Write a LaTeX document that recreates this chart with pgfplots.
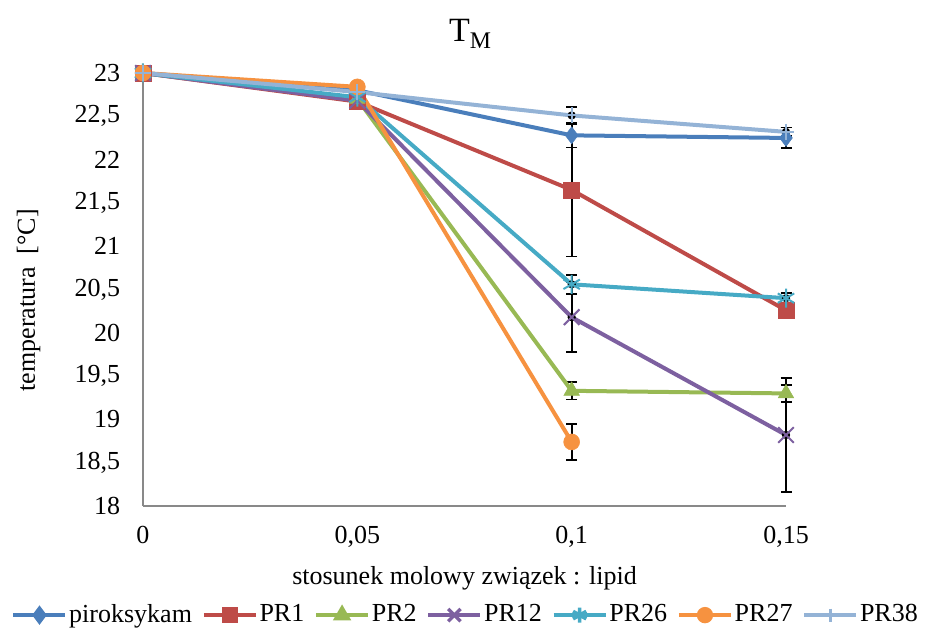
\documentclass[border=0pt]{standalone}
\usepackage{fontspec}
\setmainfont{Liberation Serif}
\usepackage{pgfplots}
\pgfplotsset{compat=1.18}
\usetikzlibrary{plotmarks}
\definecolor{cpir}{HTML}{4A7EBB}
\definecolor{cpr1}{HTML}{BE4B48}
\definecolor{cpr2}{HTML}{98B954}
\definecolor{cpr12}{HTML}{7D60A0}
\definecolor{cpr26}{HTML}{46AAC5}
\definecolor{cpr27}{HTML}{F69240}
\definecolor{cpr38}{HTML}{94B3D6}
\definecolor{axisgray}{HTML}{898989}
\begin{document}
\fontsize{26}{30}\selectfont
\begin{tikzpicture}
\path[use as bounding box] (-143pt,-129pt) rectangle (793pt,506pt);
\begin{axis}[
  at={(0pt,0pt)}, anchor=south west,
  scale only axis, width=643pt, height=433pt,
  xmin=0, xmax=0.15, ymin=18, ymax=23,
  axis x line*=bottom, axis y line*=left,
  axis line style={draw=axisgray, line width=1.2pt},
  xtick={0,0.05,0.1,0.15},
  xticklabels={0,{0,05},{0,1},{0,15}},
  ytick={18,18.5,19,19.5,20,20.5,21,21.5,22,22.5,23},
  yticklabels={18,{18,5},19,{19,5},20,{20,5},21,{21,5},22,{22,5},23},
  major tick length=0pt,
  tick label style={font=\fontsize{26}{30}\selectfont},
  yticklabel style={xshift=-14pt},
  xticklabel style={yshift=-11pt},
  clip=false,
  title={T\textsubscript{M}},
  title style={at={(axis description cs:0.509,1.076)}, anchor=center, font=\fontsize{34}{40}\selectfont},
  xlabel={stosunek molowy związek : lipid},
  xlabel style={at={(axis description cs:0.50,-0.166)}, anchor=center, font=\fontsize{26}{30}\selectfont},
  ylabel={temperatura\ \ [°C]},
  ylabel style={at={(axis description cs:-0.178,0.475)}, anchor=center, rotate=0, font=\fontsize{26}{30}\selectfont},
  every axis plot/.append style={line width=4pt},
  legend columns=-1,
  legend style={at={(axis description cs:0.502,-0.252)}, anchor=center, draw=none, fill=none,
    font=\fontsize{26}{30}\selectfont,
    /tikz/every even column/.append style={column sep=8pt},
    nodes={inner xsep=2pt, inner ysep=2pt}},
  legend image code/.code={\draw[line width=3.5pt, mark repeat=2,mark phase=2, mark options={scale=0.8}] plot coordinates {(0pt,0pt) (26pt,0pt) (52pt,0pt)};},
]
% error bars
\pgfplotsset{errbar/.style={only marks, mark=none, forget plot,
  error bars/.cd, y dir=both, y explicit,
  error bar style={draw=black, solid, line width=1.8pt},
  error mark options={draw=black, solid, rotate=90, mark size=5.5pt, line width=1.8pt}}}
\addplot[errbar] coordinates {(0.1,22.28) +- (0,0.14) (0.15,22.25) +- (0,0.12)};
\addplot[errbar] coordinates {(0.1,21.65) +- (0,0.77) (0.15,20.26) +- (0,0.05)};
\addplot[errbar] coordinates {(0.1,19.33) +- (0,0.1) (0.15,19.30) +- (0,0.1)};
\addplot[errbar] coordinates {(0.1,20.18) +- (0,0.4) (0.15,18.82) +- (0,0.66)};
\addplot[errbar] coordinates {(0.1,20.56) +- (0,0.11) (0.15,20.40) +- (0,0.06)};
\addplot[errbar] coordinates {(0.1,18.74) +- (0,0.21)};
\addplot[errbar] coordinates {(0.1,22.51) +- (0,0.1) (0.15,22.32) +- (0,0.05)};
% series
\addplot[color=cpir, mark=diamond*, mark size=8.5pt, mark options={solid, line width=0.5pt, fill=cpir}]
  coordinates {(0,23) (0.05,22.80) (0.1,22.28) (0.15,22.25)};
\addlegendentry{piroksykam}
\addplot[color=cpr1, mark=square*, mark size=8pt, mark options={solid, line width=0.5pt, fill=cpr1}]
  coordinates {(0,23) (0.05,22.67) (0.1,21.65) (0.15,20.26)};
\addlegendentry{PR1}
\addplot[color=cpr2, mark=triangle*, mark size=9pt, mark options={solid, line width=0.5pt, fill=cpr2}]
  coordinates {(0,23) (0.05,22.70) (0.1,19.33) (0.15,19.30)};
\addlegendentry{PR2}
\addplot[color=cpr12, mark=x, mark size=11pt, mark options={solid, line width=2pt}]
  coordinates {(0,23) (0.05,22.68) (0.1,20.18) (0.15,18.82)};
\addlegendentry{PR12}
\addplot[color=cpr26, mark=asterisk, mark size=9.5pt, mark options={solid, line width=2pt}]
  coordinates {(0,23) (0.05,22.72) (0.1,20.56) (0.15,20.40)};
\addlegendentry{PR26}
\addplot[color=cpr27, mark=*, mark size=8pt, mark options={solid, line width=0.5pt, fill=cpr27}]
  coordinates {(0,23) (0.05,22.84) (0.1,18.74)};
\addlegendentry{PR27}
\addplot[color=cpr38, mark=+, mark size=8pt, mark options={solid, line width=2pt}]
  coordinates {(0,23) (0.05,22.78) (0.1,22.51) (0.15,22.32)};
\addlegendentry{PR38}
\end{axis}
\end{tikzpicture}
\end{document}
